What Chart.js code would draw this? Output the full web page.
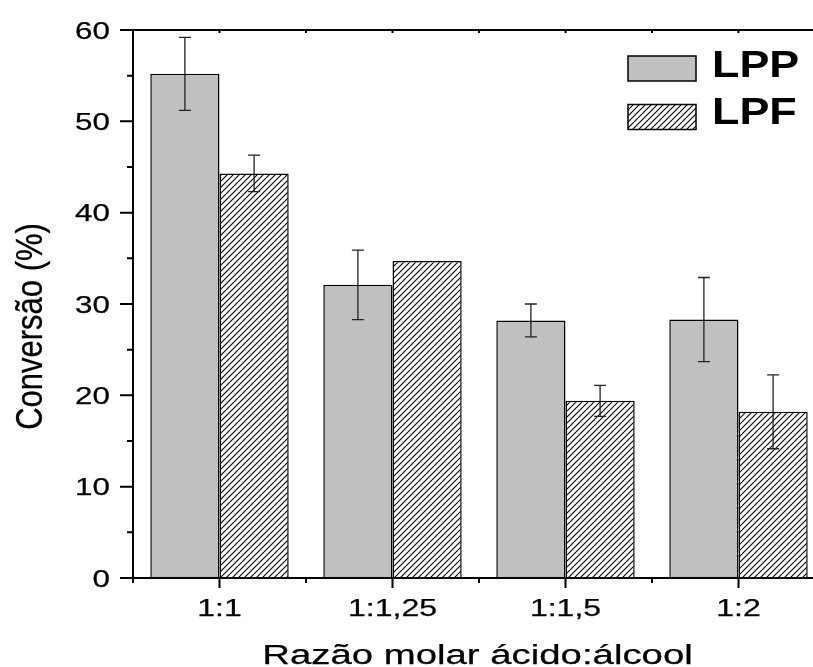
<!DOCTYPE html>
<html>
<head>
<meta charset="utf-8">
<script src="https://cdn.jsdelivr.net/npm/chart.js@4"></script>
<style>
  html, body { margin: 0; padding: 0; background: #fff; overflow: hidden; }
  #wrap { width: 840px; height: 667px; }
</style>
</head>
<body>
<div id="wrap"><canvas id="chart" width="840" height="667"></canvas></div>
<script>
// Conversion by acid:alcohol molar ratio, LPP vs LPF

const categories = ['1:1', '1:1,25', '1:1,5', '1:2'];
const lppValues = [55.2, 32.1, 28.2, 28.3];
const lppErrors = [4.0, 3.8, 1.8, 4.6];
const lpfValues = [44.3, 34.7, 19.4, 18.2];
const lpfErrors = [2.0, 0, 1.7, 4.05];
const yTickValues = [0, 10, 20, 30, 40, 50, 60];

const GRAY = '#c0c0c0';

// Diagonal hatch for LPF
function makeHatch() {
    const size = 6;
    const c = document.createElement('canvas');
    c.width = size;
    c.height = size;
    const g = c.getContext('2d');
    g.fillStyle = '#fff';
    g.fillRect(0, 0, size, size);
    g.strokeStyle = '#000';
    g.lineWidth = 1.1;
    g.beginPath();
    g.moveTo(-1, size + 1); g.lineTo(size + 1, -1);
    g.moveTo(-1, 1); g.lineTo(1, -1);
    g.moveTo(size - 1, size + 1); g.lineTo(size + 1, size - 1);
    g.stroke();
    return g.createPattern(c, 'repeat');
}
const hatch = makeHatch();

// Text with horizontal stretch (the original figure is wider than tall)
function drawText(ctx, text, x, y, font, sx, align, weight) {
    ctx.save();
    ctx.translate(x, y);
    ctx.scale(sx, 1);
    ctx.font = font;
    ctx.textAlign = align;
    ctx.textBaseline = 'alphabetic';
    ctx.fillStyle = '#000';
    ctx.fillText(text, 0, 0);
    if (weight) {
        ctx.strokeStyle = '#000';
        ctx.lineWidth = weight;
        ctx.strokeText(text, 0, 0);
    }
    ctx.restore();
}

const errorBars = {
    id: 'errorBars',
    afterDatasetsDraw(chart) {
        const ctx = chart.ctx;
        const y = chart.scales.y;
        const errs = [lppErrors, lpfErrors];
        ctx.save();
        ctx.strokeStyle = '#222';
        ctx.lineWidth = 1.3;
        chart.data.datasets.forEach((ds, di) => {
            const meta = chart.getDatasetMeta(di);
            meta.data.forEach((bar, i) => {
                const e = errs[di][i];
                if (!e) return;
                const v = ds.data[i];
                const yt = y.getPixelForValue(v + e);
                const yb = y.getPixelForValue(v - e);
                const x = bar.x;
                ctx.beginPath();
                ctx.moveTo(x, yt); ctx.lineTo(x, yb);
                ctx.moveTo(x - 6, yt); ctx.lineTo(x + 6, yt);
                ctx.moveTo(x - 6, yb); ctx.lineTo(x + 6, yb);
                ctx.stroke();
            });
        });
        ctx.restore();
    }
};

const frame = {
    id: 'frame',
    afterDraw(chart) {
        const ctx = chart.ctx;
        const area = chart.chartArea;
        const xs = chart.scales.x;
        const ys = chart.scales.y;
        ctx.save();
        ctx.strokeStyle = '#000';
        ctx.lineWidth = 2;
        ctx.beginPath();
        ctx.moveTo(area.left, area.bottom); ctx.lineTo(area.left, area.top);
        ctx.moveTo(area.left, area.top); ctx.lineTo(area.right, area.top);
        ctx.moveTo(area.left, area.bottom); ctx.lineTo(area.right, area.bottom);
        ctx.moveTo(area.right, area.top); ctx.lineTo(area.right, area.bottom);
        ctx.stroke();

        // y ticks (major every 10, minor every 5)
        ctx.beginPath();
        for (let v = 0; v <= 60; v += 5) {
            const py = ys.getPixelForValue(v);
            const len = v % 10 === 0 ? 13 : 6;
            ctx.moveTo(area.left - len, py); ctx.lineTo(area.left, py);
        }
        // x ticks: major at categories, minor at boundaries
        const step = xs.getPixelForValue(1) - xs.getPixelForValue(0);
        categories.forEach((c, i) => {
            const px = xs.getPixelForValue(i);
            ctx.moveTo(px, area.bottom); ctx.lineTo(px, area.bottom + 10);
            ctx.moveTo(px, area.top); ctx.lineTo(px, area.top + 3);
            const bx = px - step / 2;
            ctx.moveTo(bx, area.bottom); ctx.lineTo(bx, area.bottom + 5);
            ctx.moveTo(bx, area.top); ctx.lineTo(bx, area.top + 3);
        });
        ctx.stroke();
        ctx.restore();

        yTickValues.forEach(v => {
            drawText(ctx, String(v), 110, ys.getPixelForValue(v) + 8.8,
                '24.5px "Liberation Sans", Arial, sans-serif', 1.28, 'right', 0.25);
        });
        categories.forEach((c, i) => {
            drawText(ctx, c, xs.getPixelForValue(i), 615.5,
                '23.5px "Liberation Sans", Arial, sans-serif', 1.36, 'center', 0.25);
        });

        // axis titles
        drawText(ctx, 'Razão molar ácido:álcool', 477.5, 663.5,
            '27px "Liberation Sans", Arial, sans-serif', 1.42, 'center', 0.25);
        ctx.save();
        ctx.translate(42, 326.5);
        ctx.rotate(-Math.PI / 2);
        ctx.scale(1, 1.22);
        ctx.font = '31px "Liberation Sans", Arial, sans-serif';
        ctx.textAlign = 'center';
        ctx.textBaseline = 'alphabetic';
        ctx.fillStyle = '#000';
        ctx.fillText('Conversão (%)', 0, 0);
        ctx.strokeStyle = '#000';
        ctx.lineWidth = 0.25;
        ctx.strokeText('Conversão (%)', 0, 0);
        ctx.restore();

        // legend
        ctx.save();
        ctx.strokeStyle = '#000';
        ctx.lineWidth = 1.5;
        ctx.fillStyle = GRAY;
        ctx.fillRect(628, 56, 68, 25);
        ctx.strokeRect(628, 56, 68, 25);
        ctx.fillStyle = hatch;
        ctx.fillRect(628, 104.5, 68, 25);
        ctx.strokeRect(628, 104.5, 68, 25);
        ctx.restore();
        drawText(ctx, 'LPP', 712, 76.7, 'bold 37.7px "Liberation Sans", Arial, sans-serif', 1.19, 'left');
        drawText(ctx, 'LPF', 712, 124, 'bold 37.7px "Liberation Sans", Arial, sans-serif', 1.19, 'left');
    }
};

new Chart(document.getElementById('chart'), {
    type: 'bar',
    data: {
        labels: categories,
        datasets: [
            {
                label: 'LPP',
                data: lppValues,
                backgroundColor: GRAY,
                borderColor: '#000',
                borderWidth: 1.5,
                categoryPercentage: 0.8,
                barPercentage: 1.0
            },
            {
                label: 'LPF',
                data: lpfValues,
                backgroundColor: hatch,
                borderColor: '#000',
                borderWidth: 1.5,
                categoryPercentage: 0.8,
                barPercentage: 1.0
            }
        ]
    },
    options: {
        responsive: false,
        animation: false,
        layout: {
            padding: { left: 125, top: 30, right: 15, bottom: 81 }
        },
        plugins: {
            legend: { display: false },
            tooltip: { enabled: false }
        },
        scales: {
            x: {
                grid: { display: false },
                border: { display: false },
                ticks: { display: false }
            },
            y: {
                min: 0,
                max: 60,
                grid: { display: false },
                border: { display: false },
                ticks: { display: false }
            }
        }
    },
    plugins: [errorBars, frame]
});
</script>
</body>
</html>
